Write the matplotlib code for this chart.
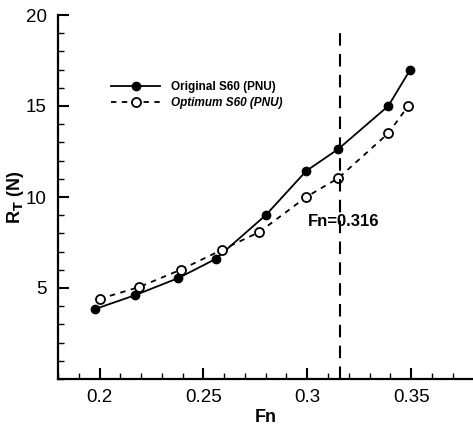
import numpy as np
import matplotlib.pyplot as plt
from matplotlib.ticker import MultipleLocator

plt.rcParams['font.family'] = ['Liberation Sans', 'DejaVu Sans']

# data
fn_orig = [0.198, 0.217, 0.238, 0.256, 0.280, 0.2995, 0.315, 0.339, 0.3495]
rt_orig = [3.85, 4.60, 5.55, 6.60, 9.00, 11.43, 12.64, 15.00, 16.98]
fn_opt = [0.200, 0.219, 0.239, 0.259, 0.277, 0.2995, 0.315, 0.339, 0.3486]
rt_opt = [4.40, 5.05, 6.00, 7.10, 8.08, 10.00, 11.04, 13.50, 15.00]
fn_design = 0.316

fig = plt.figure(figsize=(4.73, 4.24), dpi=100)
ax = fig.add_axes([58 / 473, 1 - 379 / 424, 1 - 58 / 473, (379 - 15) / 424])

ax.plot(fn_orig, rt_orig, '-', color='black', lw=1.3, marker='o', ms=6,
        mfc='black', mec='black', label='Original S60 (PNU)')
ax.plot(fn_opt, rt_opt, color='black', lw=1.3, ls=(0, (3, 3)), marker='o', ms=6.5,
        mfc='white', mec='black', mew=1.3, label='Optimum S60 (PNU)')

ax.axvline(fn_design, color='black', lw=1.5, ls=(0, (6, 4)), ymax=0.97)
ax.text(0.3005, 8.63, 'Fn=0.316', fontsize=12, fontweight='bold', va='center', ha='left')

ax.set_xlim(0.18, 0.3798)
ax.set_ylim(0, 20)
ax.xaxis.set_major_locator(MultipleLocator(0.05))
ax.xaxis.set_minor_locator(MultipleLocator(0.01))
ax.yaxis.set_major_locator(MultipleLocator(5))
ax.yaxis.set_minor_locator(MultipleLocator(1))
ax.set_yticks([5, 10, 15, 20])
ax.set_xticks([0.2, 0.25, 0.3, 0.35])
ax.set_xticklabels(['0.2', '0.25', '0.3', '0.35'])

ax.tick_params(which='major', direction='in', length=8, width=1.5, labelsize=13.5)
ax.tick_params(axis='y', which='major', pad=8)
ax.tick_params(axis='x', which='major', pad=7)
ax.tick_params(which='minor', direction='in', length=4, width=1)
ax.tick_params(top=False, right=False, which='both')

for s in ['top', 'right']:
    ax.spines[s].set_visible(False)
for s in ['left', 'bottom']:
    ax.spines[s].set_linewidth(1.6)

ax.set_xlabel('Fn', fontsize=13, fontweight='bold', labelpad=2)
ax.set_ylabel('R$_\\mathbf{T}$ (N)', fontsize=13, fontweight='bold', labelpad=0)

leg = ax.legend(loc='upper left', bbox_to_anchor=(106 / 473, 1 - 76 / 424),
                bbox_transform=fig.transFigure, frameon=False,
                prop={'size': 8.5, 'weight': 'bold'}, handlelength=4.2,
                handletextpad=0.9, labelspacing=0.35, borderaxespad=0)
leg.get_texts()[1].set_style('italic')

fig.savefig('out.png', dpi=100)
